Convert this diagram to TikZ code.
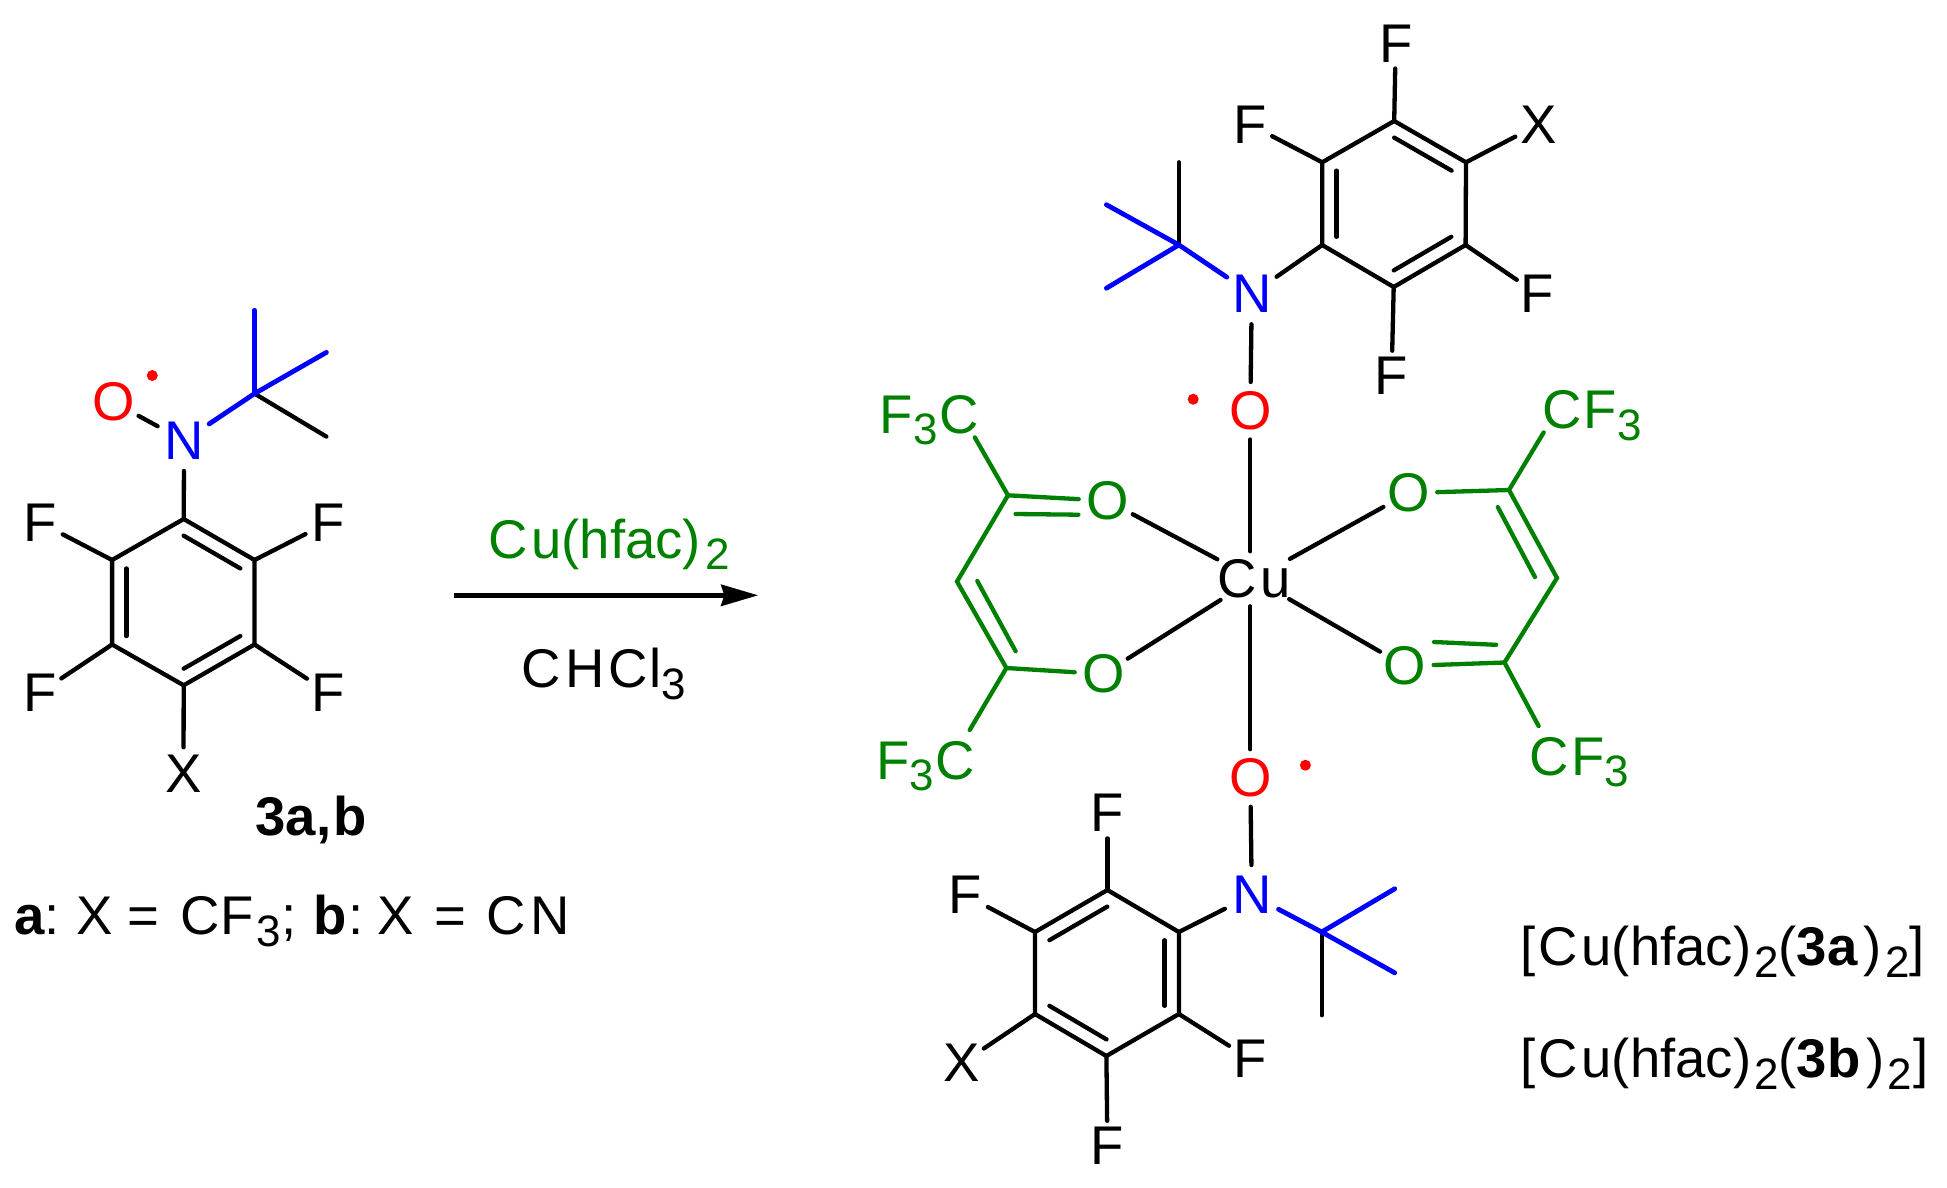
\documentclass[tikz,border=0pt]{standalone}
\usepackage{fontspec}
\setmainfont{Liberation Sans}
\usetikzlibrary{arrows.meta, calc, shapes.geometric}
\definecolor{hfacgreen}{RGB}{0,128,0}
\newcommand{\low}[1]{\raisebox{-11.5pt}{\fontsize{44}{47}\selectfont #1}}
\tikzset{
  atom/.style={circle, inner sep=0pt, yshift=-2pt},
  nitrogen/.style={atom, inner sep=2pt, text=blue},
  group/.style={anchor=base west, inner sep=0pt},
  bond/.style={line width=4.3pt, line cap=round},
  bluebond/.style={bond, blue, line width=4.8pt},
  greenbond/.style={bond, hfacgreen},
  radical/.style={circle, fill=red, inner sep=0pt, minimum size=11pt}
}

\begin{document}
\begin{tikzpicture}[x=1pt, y=-1pt, every node/.style={font=\fontsize{54.5}{60}\selectfont}]
    \useasboundingbox (0,0) rectangle (1947,1187);

    % free ligand
    \coordinate (R1) at (183.7,519);
    \coordinate (R2) at (254.5,560);
    \coordinate (R3) at (254.5,644.5);
    \coordinate (R4) at (183.7,685.3);
    \coordinate (R5) at (112.1,644.5);
    \coordinate (R6) at (112.1,560);
    \coordinate (Rc) at (183.5,602.2);
    \coordinate (Rb) at (254.5,393.6);
    \coordinate (Rb1) at (254.5,310.3);
    \coordinate (Rb2) at (326.4,352.4);
    \coordinate (Rb3) at (326.4,436.6);
    \node[atom] (RF1) at (40.4,520.7) {F};
    \node[atom] (RF2) at (328,520.7) {F};
    \node[atom] (RF3) at (328,690.4) {F};
    \node[atom] (RF4) at (40.4,690.4) {F};
    \node[atom] (RX) at (183.5,771.6) {X};
    \node[nitrogen] (RN) at (184.1,438.7) {N};
    \node[atom, text=red] (RO) at (113.3,400) {O};
    \node[radical] (Rdot) at (152.3,375.5) {};
    \draw[bond] (R1) -- (R2) -- (R3) -- (R4) -- (R5) -- (R6) -- cycle;
    \foreach \p/\q in {R1/R2, R3/R4, R5/R6}
        \draw[bond] ($(\p)!0.2!(Rc)$) -- ($(\q)!0.2!(Rc)$);
    \draw[bond] (R6) -- (RF1);
    \draw[bond] (R2) -- (RF2);
    \draw[bond] (R3) -- (RF3);
    \draw[bond] (R5) -- (RF4);
    \draw[bond] (R4) -- (RX);
    \draw[bond] (R1) -- (RN);
    \draw[bond] (RN) -- (RO);
    \draw[bond] (Rb) -- (Rb3);
    \draw[bluebond] (RN) -- (Rb);
    \draw[bluebond] (Rb) -- (Rb1);
    \draw[bluebond] (Rb) -- (Rb2);
    \node[group] (Rname) at (255,835) {\bfseries 3a\kern1pt,\kern2pt b};
    \node[group] (Rkey) at (14,934.5) {\textbf{a}:\kern17pt X\kern14pt=\kern21pt C\kern1pt F\kern3pt\low{3};\kern17pt \textbf{b}\kern2pt:\kern14pt X\kern20pt=\kern20pt C\kern5pt N};

    % reaction arrow
    \coordinate (Astart) at (454,595.3);
    \coordinate (Aend) at (758.3,595.3);
    \draw[line width=5pt, -{Stealth[length=37pt, width=21pt, inset=3pt]}] (Astart) -- (Aend);
    \node[group, text=hfacgreen] (reagent) at (488,558.3) {C\kern4pt u(hfac)\kern4pt\low{2}};
    \node[group] (solvent) at (521.3,687.7) {C\kern5pt H\kern3pt C\kern2pt l\low{3}};

    % complex, upper ligand
    \node[ellipse, inner sep=0pt, yshift=-2pt] (Cu) at (1254,576.8) {C\kern4pt u};
    \coordinate (S1) at (1394.2,121);
    \coordinate (S2) at (1466,162.3);
    \coordinate (S3) at (1465.6,245);
    \coordinate (S4) at (1393.7,287);
    \coordinate (S5) at (1322.2,245);
    \coordinate (S6) at (1322.2,162.3);
    \coordinate (Sc) at (1394,204);
    \coordinate (Sb) at (1178.9,244.9);
    \coordinate (Sb1) at (1178.9,162.3);
    \coordinate (Sb2) at (1106.4,204.7);
    \coordinate (Sb3) at (1106.4,288.2);
    \node[atom] (SF1) at (1395.7,41.3) {F};
    \node[atom] (SF2) at (1249.8,122.5) {F};
    \node[atom] (SX) at (1538.6,122.5) {X};
    \node[atom] (SF3) at (1537.6,292) {F};
    \node[atom] (SF4) at (1391.6,373.9) {F};
    \node[nitrogen] (SN) at (1251.8,292) {N};
    \node[atom, text=red] (SO) at (1250.3,408.7) {O};
    \node[radical] (Sdot) at (1193.2,399.2) {};
    \draw[bond] (S1) -- (S2) -- (S3) -- (S4) -- (S5) -- (S6) -- cycle;
    \foreach \p/\q in {S1/S2, S3/S4, S5/S6}
        \draw[bond] ($(\p)!0.2!(Sc)$) -- ($(\q)!0.2!(Sc)$);
    \draw[bond] (S1) -- (SF1);
    \draw[bond] (S6) -- (SF2);
    \draw[bond] (S2) -- (SX);
    \draw[bond] (S3) -- (SF3);
    \draw[bond] (S4) -- (SF4);
    \draw[bond] (S5) -- (SN);
    \draw[bond] (SN) -- (SO);
    \draw[bond] (SO) -- (Cu.north -| SO);
    \draw[bond] (Sb) -- (Sb1);
    \draw[bluebond] (SN) -- (Sb);
    \draw[bluebond] (Sb) -- (Sb2);
    \draw[bluebond] (Sb) -- (Sb3);

    % complex, lower ligand
    \coordinate (T1) at (1107.4,890);
    \coordinate (T2) at (1178.9,932);
    \coordinate (T3) at (1178.9,1014);
    \coordinate (T4) at (1106.4,1056);
    \coordinate (T5) at (1035,1014);
    \coordinate (T6) at (1035,932);
    \coordinate (Tc) at (1107,973);
    \coordinate (Tb) at (1321.7,932);
    \coordinate (Tb1) at (1394.7,888.8);
    \coordinate (Tb2) at (1394.7,972.8);
    \coordinate (Tb3) at (1321.7,1015.2);
    \node[atom] (TF1) at (1107.4,811.2) {F};
    \node[atom] (TF2) at (965.6,893.2) {F};
    \node[atom] (TX) at (962,1061.2) {X};
    \node[atom] (TF3) at (1250.3,1057.2) {F};
    \node[atom] (TF4) at (1107.4,1144) {F};
    \node[nitrogen] (TN) at (1251.8,893.2) {N};
    \node[atom, text=red] (TO) at (1250.3,776) {O};
    \node[radical] (Tdot) at (1305.4,765.2) {};
    \draw[bond] (T1) -- (T2) -- (T3) -- (T4) -- (T5) -- (T6) -- cycle;
    \foreach \p/\q in {T1/T6, T2/T3, T4/T5}
        \draw[bond] ($(\p)!0.2!(Tc)$) -- ($(\q)!0.2!(Tc)$);
    \draw[bond] (T1) -- (TF1);
    \draw[bond] (T6) -- (TF2);
    \draw[bond] (T5) -- (TX);
    \draw[bond] (T3) -- (TF3);
    \draw[bond] (T4) -- (TF4);
    \draw[bond] (T2) -- (TN);
    \draw[bond] (TN) -- (TO);
    \draw[bond] (TO) -- (Cu.south -| TO);
    \draw[bond] (Tb) -- (Tb3);
    \draw[bluebond] (TN) -- (Tb);
    \draw[bluebond] (Tb) -- (Tb1);
    \draw[bluebond] (Tb) -- (Tb2);

    % hfac, left
    \coordinate (L1) at (1008,495.3);
    \coordinate (L2) at (957,581.5);
    \coordinate (L3) at (1006.4,668);
    \coordinate (L1a) at (974.8,437.4);
    \coordinate (L3a) at (969.7,730);
    \coordinate (Ld1) at (1015.6,514);
    \coordinate (Ld2) at (1078.4,514.7);
    \coordinate (Ld3) at (977.3,581);
    \coordinate (Ld4) at (1015.6,651.2);
    \node[atom, text=hfacgreen] (LO1) at (1107.4,498.7) {O};
    \node[atom, text=hfacgreen] (LO2) at (1103.4,672) {O};
    \node[group, text=hfacgreen] (LCF1) at (879.5,433) {F\low{3}\kern2pt C};
    \node[group, text=hfacgreen] (LCF2) at (876,779) {F\low{3}\kern2pt C};
    \draw[greenbond] (L1a) -- (L1) -- (L2) -- (L3) -- (L3a);
    \draw[greenbond] (L1) -- (LO1);
    \draw[greenbond] (L3) -- (LO2);
    \draw[greenbond] (Ld1) -- (Ld2);
    \draw[greenbond] (Ld3) -- (Ld4);
    \draw[bond] (LO1) -- (Cu);
    \draw[bond] (LO2) -- (Cu);

    % hfac, right
    \coordinate (H1) at (1509,490);
    \coordinate (H2) at (1557,578);
    \coordinate (H3) at (1504.5,662.5);
    \coordinate (H1a) at (1543.7,432.4);
    \coordinate (H3a) at (1538.6,726);
    \coordinate (Hd1) at (1497.8,507.1);
    \coordinate (Hd2) at (1535,577.1);
    \coordinate (Hd3) at (1434,642);
    \coordinate (Hd4) at (1496.2,644.8);
    \node[atom, text=hfacgreen] (HO1) at (1408.5,491) {O};
    \node[atom, text=hfacgreen] (HO2) at (1404.9,664) {O};
    \node[group, text=hfacgreen] (HCF1) at (1542.3,428.5) {C\kern2pt F\low{3}};
    \node[group, text=hfacgreen] (HCF2) at (1529.7,775) {C\kern2pt F\low{3}};
    \draw[greenbond] (H1a) -- (H1) -- (H2) -- (H3) -- (H3a);
    \draw[greenbond] (H1) -- (HO1);
    \draw[greenbond] (H3) -- (HO2);
    \draw[greenbond] (Hd1) -- (Hd2);
    \draw[greenbond] (Hd3) -- (Hd4);
    \draw[bond] (HO1) -- (Cu);
    \draw[bond] (HO2) -- (Cu);

    \node[group] (nameA) at (1520,965.5) {[\kern3pt C\kern4pt u(hfac)\kern3pt\low{2}(\textbf{3a}\kern6pt)\kern3pt\low{2}]};
    \node[group] (nameB) at (1520,1077.5) {[\kern3pt C\kern4pt u(hfac)\kern3pt\low{2}(\textbf{3b}\kern6pt)\kern3pt\low{2}\kern1pt]};
\end{tikzpicture}
\end{document}
